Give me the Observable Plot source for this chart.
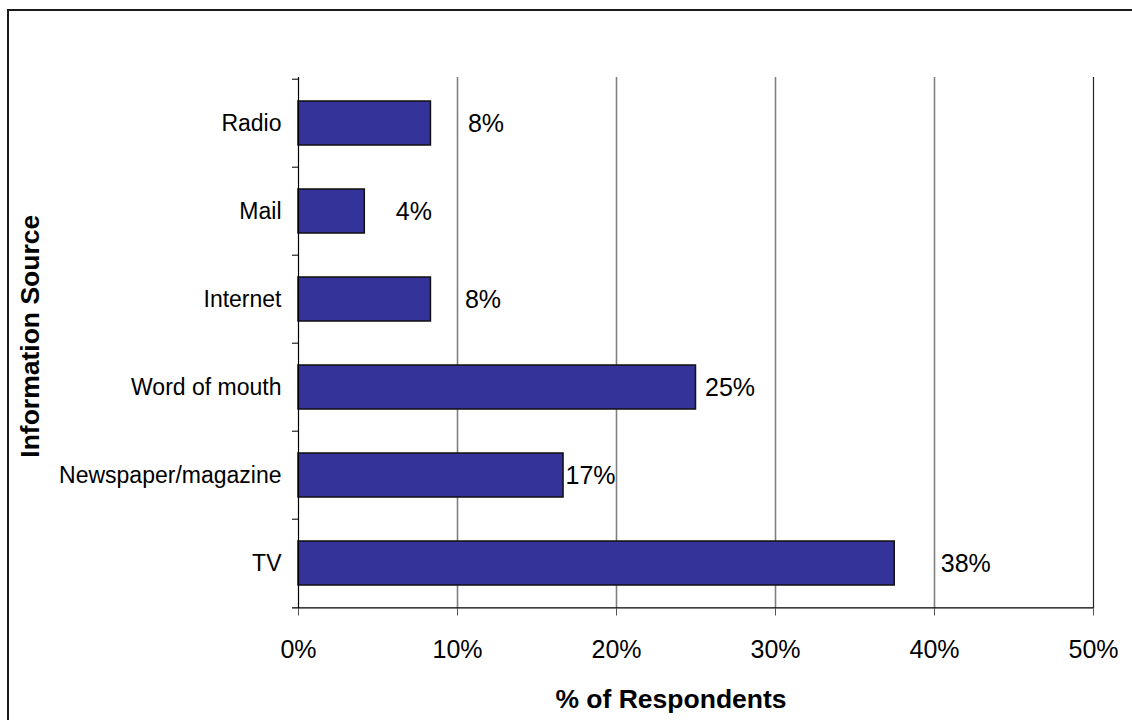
<!DOCTYPE html>
<html>
<head>
<meta charset="utf-8">
<script src="https://cdn.jsdelivr.net/npm/d3@7"></script>
<script src="https://cdn.jsdelivr.net/npm/@observablehq/plot@0.6"></script>
<style>
  html, body { margin: 0; padding: 0; background: #fff; overflow: hidden; }
  #wrap { position: relative; width: 1132px; height: 720px; overflow: hidden; }
  #border { position: absolute; left: 7px; top: 9px; width: 3000px; height: 3000px;
            border: 2px solid #1a1a1a; box-sizing: border-box; }
  #chart { position: absolute; left: 0; top: 0; }
  #chart svg { font-family: "Liberation Sans", Arial, sans-serif; }
</style>
</head>
<body>
<div id="wrap">
  <div id="border"></div>
  <div id="chart"></div>
</div>
<script>
// Where respondents heard about the program (share of respondents, %)
const sources = ["Radio", "Mail", "Internet", "Word of mouth", "Newspaper/magazine", "TV"];
const shares = [8.33, 4.17, 8.33, 25, 16.67, 37.5];
const xTicks = [0, 10, 20, 30, 40, 50];
const xTitle = "% of Respondents";
const yTitle = "Information Source";

const data = sources.map((source, i) => ({source, value: shares[i]}));

// layout
const W = 1132, H = 720;
const mTop = 77, mBottom = 111.5, mLeft = 298, mRight = 39;
const step = (H - mTop - mBottom) / sources.length;
const font = "Liberation Sans, Arial, sans-serif";

// hand-placed offsets of the value labels from the bar ends (px)
const labelNudge = {"Radio": 37, "Mail": 31, "Internet": 34, "Word of mouth": 9, "Newspaper/magazine": 2, "TV": 46};

const fmt = v => Math.round(v) + "%";

const plot = Plot.plot({
  width: W,
  height: H,
  marginTop: mTop,
  marginBottom: mBottom,
  marginLeft: mLeft,
  marginRight: mRight,
  style: {fontFamily: font, fontSize: "23px", background: "transparent", color: "#000"},
  x: {domain: [0, 50]},
  y: {domain: sources, paddingInner: 0.5, paddingOuter: 0.25},
  marks: [
    // vertical gridlines
    Plot.ruleX(xTicks.filter(t => t > 0 && t < 50), {stroke: "#808080", strokeWidth: 1.6}),
    Plot.ruleX([50], {stroke: "#222", strokeWidth: 1.2}),
    // bars
    Plot.barX(data, {x: "value", y: "source", fill: "#333399", stroke: "#111", strokeWidth: 1.5}),
    // category boundary ticks on the value axis
    Plot.ruleY(sources, {y: d => d, dy: -step / 2, insetLeft: -6, insetRight: W - mLeft - mRight, stroke: "#222", strokeWidth: 1.2}),
    // category axis line and baseline
    Plot.ruleX([0], {stroke: "#000", strokeWidth: 1.2}),
    Plot.ruleY([sources[sources.length - 1]], {dy: step / 2, insetLeft: -6, stroke: "#000", strokeWidth: 1.2}),
    // axes
    Plot.axisX({ticks: xTicks, tickFormat: d => d + "%", tickSize: 7, tickPadding: 24, fontSize: 25, stroke: "#555", label: null}),
    Plot.axisY({tickSize: 0, tickPadding: 17, fontSize: 23, label: null}),
    // value labels
    ...data.map(d => Plot.text([d], {
      x: "value", y: "source", text: e => fmt(e.value),
      textAnchor: "start", dx: labelNudge[d.source], fontSize: 25, fill: "#000"
    })),
    // axis titles
    Plot.text([xTitle], {frameAnchor: "bottom", text: d => d, dx: -25, dy: 91, lineAnchor: "middle",
      textAnchor: "middle", fontSize: 26.5, fontWeight: "bold", fill: "#000"}),
    Plot.text([yTitle], {frameAnchor: "left", text: d => d, rotate: -90, dx: -268, dy: -7, lineAnchor: "middle",
      textAnchor: "middle", fontSize: 26.5, fontWeight: "bold", fill: "#000"})
  ]
});

document.getElementById("chart").appendChild(plot);
</script>
</body>
</html>
